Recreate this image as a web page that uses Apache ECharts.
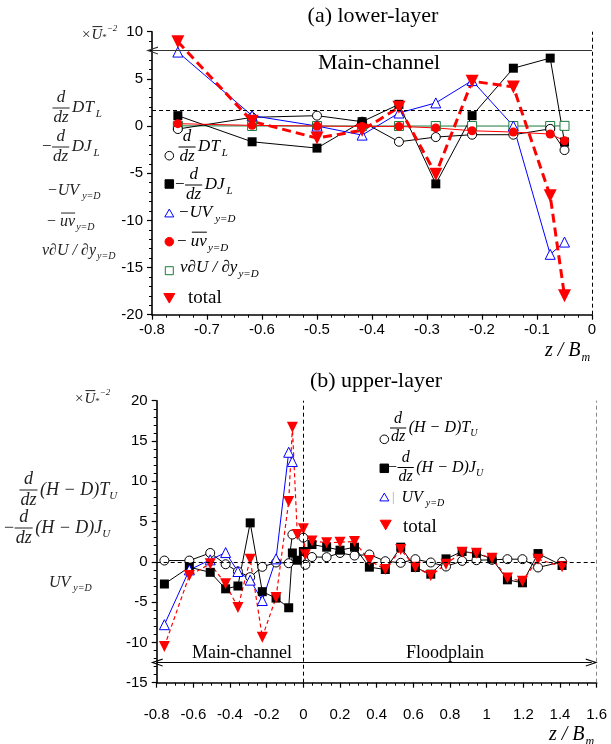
<!DOCTYPE html>
<html><head><meta charset="utf-8">
<script src="https://cdn.jsdelivr.net/npm/echarts@6/dist/echarts.min.js"></script>
<style>html,body{margin:0;padding:0;background:#fff}#c{width:611px;height:744px}</style>
</head><body><div id="c"></div>
<script>
// ---------- (a) lower-layer data ----------
const xLower = [-0.753, -0.618, -0.5, -0.418, -0.351, -0.284, -0.218, -0.143, -0.076, -0.05];
const dTL    = [-0.32, 0.92, 1.1, 0.46, -1.67, -1.17, -0.92, -0.92, -0.3, -2.55];
const dJL    = [1.1, -1.67, -2.34, 0.46, 2.3, -6.13, 1.1, 6.13, 7.2, -1.7];
const negUV  = [7.84, 1.1, 0.0, -0.96, 1.38, 2.45, 4.82, 0.0, -13.6, -12.3];
const negUv  = [0.25, 0.07, 0.0, -0.04, -0.04, -0.2, -0.5, -0.64, -0.85, -1.56];
const visc   = [0.02, 0.01, 0.0, 0.0, 0.0, 0.0, 0.0, 0.0, 0.0, 0.02];
const totLow = [8.94, 0.5, -1.28, -0.46, 1.99, -5.1, 4.75, 4.15, -7.4, -18.0];
const xTicksLower = [-0.8, -0.7, -0.6, -0.5, -0.4, -0.3, -0.2, -0.1, 0];
const yTicksLower = [-20, -15, -10, -5, 0, 5, 10];
const lowerDashY = 1.63, lowerArrowY = 8.0;

// ---------- (b) upper-layer data ----------
const xTU = [-0.758,-0.622,-0.508,-0.424,-0.357,-0.29,-0.224,-0.149,-0.08,-0.06,0.0,0.011,0.047,0.127,0.2,0.279,0.36,0.447,0.531,0.611,0.695,0.778,0.866,0.944,1.029,1.113,1.195,1.28,1.411];
const vTU = [0.16,0.16,1.1,-0.3,-1.2,-1.9,-0.62,-0.08,-0.17,3.39,3.0,-0.37,0.6,0.58,1.1,0.78,0.91,0.08,-0.12,0.33,-0.08,-0.58,0.12,0.2,0.25,0.33,0.33,-0.7,0.0];
const xJU = [-0.758,-0.622,-0.508,-0.424,-0.357,-0.29,-0.224,-0.149,-0.08,-0.06,-0.033,0.0,0.047,0.127,0.2,0.279,0.36,0.447,0.531,0.611,0.695,0.778,0.866,0.944,1.029,1.113,1.195,1.28,1.411];
const vJU = [-2.75,-0.66,-1.3,-3.35,-3.0,4.84,-3.7,-4.5,-5.7,1.1,0.2,1.28,2.15,1.82,1.45,1.82,-0.66,-0.95,1.82,-0.7,-1.53,0.37,1.28,1.07,0.37,-2.23,-2.6,1.03,-0.45];
const xUV = [-0.758,-0.622,-0.508,-0.424,-0.357,-0.29,-0.224,-0.149,-0.08,-0.06];
const vUV = [-7.8,-1.0,0.25,1.15,-1.2,-2.27,-4.8,0.37,13.6,12.45];
const xTot = [-0.758,-0.622,-0.508,-0.424,-0.357,-0.29,-0.224,-0.149,-0.08,-0.06,-0.033,0.0,0.011,0.047,0.127,0.2,0.279,0.36,0.447,0.531,0.611,0.695,0.778,0.866,0.944,1.029,1.113,1.195,1.28,1.411];
const vTot = [-10.5,-1.7,-0.25,-2.73,-5.67,0.33,-9.35,-4.43,7.48,16.7,3.4,4.1,0.87,2.6,2.36,2.44,2.52,0.16,-0.95,1.53,-0.66,-1.7,-0.29,1.2,1.07,0.45,-2.0,-2.4,0.33,-0.6];
const xTicksUpper = [-0.8,-0.6,-0.4,-0.2,0,0.2,0.4,0.6,0.8,1,1.2,1.4,1.6];
const yTicksUpper = [-15,-10,-5,0,5,10,15,20];
const upperArrowY = -12.5, upperArrowEnd = 1.573;

// ---------- helpers ----------
const SERIF = '"Liberation Serif","Times New Roman",serif';
const SANS = '"Liberation Sans",Arial,sans-serif';
const cv = document.createElement('canvas').getContext('2d');
function fnt(sz, it){ return (it ? 'italic ' : '') + sz + 'px ' + SERIF; }
function tw(s, f){ cv.font = f; return cv.measureText(s).width; }
function T(x, y, s, sz, it, col, al, fam){
  return {type:'text', x:x, y:y, silent:true, z:100,
    style:{text:s, font: fam ? (sz+'px '+fam) : fnt(sz,it), fill:col||'#000', align:al||'left', verticalAlign:'middle'}};
}
function L(x1,y1,x2,y2,col,w){ return {type:'line', silent:true, z:100, shape:{x1:x1,y1:y1,x2:x2,y2:y2}, style:{stroke:col||'#000', lineWidth:w||1}}; }
function M(x, y, sz, parts, col){
  col = col || '#000';
  const out = []; let cx = x;
  parts.forEach(p => {
    if (p.frac){
      const f = fnt(sz, true);
      const w = Math.max(tw(p.frac[0], f), tw(p.frac[1], f)) + 3;
      out.push(T(cx + w/2, y - sz*0.6, p.frac[0], sz, true, col, 'center'));
      out.push(L(cx + 0.5, y, cx + w - 0.5, y, col, 1));
      out.push(T(cx + w/2, y + sz*0.58, p.frac[1], sz, true, col, 'center'));
      cx += w + (p.gap == null ? 2 : p.gap);
    } else {
      const small = p.sub || p.sup;
      const s2 = small ? Math.round(sz*0.62) : sz;
      const it = p.it !== false;
      const dy = p.sub ? sz*0.36 : (p.sup ? -sz*0.42 : 0);
      const dx = p.dx || 0;
      out.push(T(cx + dx, y + dy + (p.dy||0), p.t, s2, it, col));
      const w = tw(p.t, fnt(s2, it));
      if (p.over) out.push(L(cx + dx + 1, y - sz*0.56, cx + dx + w, y - sz*0.56, col, 1));
      cx += w + dx + (p.gap || 0);
    }
  });
  return out;
}
function circ(cx, cy, r, fill, stroke){ return {type:'circle', silent:true, z:100, shape:{cx:cx,cy:cy,r:r}, style:{fill:fill, stroke:stroke, lineWidth:1}}; }
function sq(cx, cy, s, fill, stroke){ return {type:'rect', silent:true, z:100, shape:{x:cx-s/2,y:cy-s/2,width:s,height:s}, style:{fill:fill, stroke:stroke, lineWidth:1}}; }
function tri(cx, cy, s, fill, stroke, down){
  const h = s*0.87, d = down ? -1 : 1;
  return {type:'polygon', silent:true, z:100, shape:{points:[[cx, cy - d*h/2],[cx - s/2, cy + d*h/2],[cx + s/2, cy + d*h/2]]}, style:{fill:fill, stroke:stroke, lineWidth:1}};
}
function pairs(xs, ys){ return xs.map((x, i) => [x, ys[i]]); }
function fmt(v){ const r = Math.round(v*10)/10; return (Math.abs(r) < 1e-9) ? '0' : String(r); }
const ARROW = 'path://M0,12L4,0L8,12L6.9,12L4,3.4L1.1,12Z';

function xAx(grid, ticks, itv, margin){
  return {gridIndex:grid, type:'value', min:ticks[0], max:ticks[ticks.length-1], interval:itv,
    axisLine:{show:true, onZero:false, lineStyle:{color:'#000', width:1.6}},
    axisTick:{show:true, inside:false, length:5, lineStyle:{color:'#000', width:1.2}},
    minorTick:{show:true, splitNumber:4, length:3, lineStyle:{color:'#000', width:1}},
    splitLine:{show:false}, minorSplitLine:{show:false},
    axisLabel:{color:'#000', fontFamily:SANS, fontSize:15, margin:margin, formatter: fmt}};
}
function yAx(grid, ticks, itv){
  return {gridIndex:grid, type:'value', min:ticks[0], max:ticks[ticks.length-1], interval:itv,
    axisLine:{show:true, onZero:false, lineStyle:{color:'#000', width:1.6}},
    axisTick:{show:true, inside:false, length:5, lineStyle:{color:'#000', width:1.2}},
    minorTick:{show:true, splitNumber:5, length:3, lineStyle:{color:'#000', width:1}},
    splitLine:{show:false}, minorSplitLine:{show:false},
    axisLabel:{color:'#000', fontFamily:SANS, fontSize:15, margin:9, formatter: fmt}};
}
const dash = {type:[4,3], color:'#000', width:1};

// ---------- series ----------
const series = [
  {name:'visc', type:'line', xAxisIndex:0, yAxisIndex:0, data:pairs(xLower, visc),
   symbol:'rect', symbolSize:9, itemStyle:{color:'#fff', borderColor:'#1a7a3c', borderWidth:1},
   lineStyle:{color:'#1a7a3c', width:1},
   markLine:{silent:true, symbol:'none', label:{show:false}, animation:false,
     data:[
       {xAxis:0, lineStyle:dash},
       {yAxis:lowerDashY, lineStyle:dash},
       [{coord:[xTicksLower[0], lowerArrowY], symbol:ARROW, symbolSize:[8,12], lineStyle:{type:'solid', color:'#333', width:1}},
        {coord:[0, lowerArrowY], symbol:'none', lineStyle:{type:'solid', color:'#333', width:1}}]
     ]}},
  {name:'dTL', type:'line', xAxisIndex:0, yAxisIndex:0, data:pairs(xLower, dTL),
   symbol:'circle', symbolSize:9, itemStyle:{color:'#fff', borderColor:'#000', borderWidth:1}, lineStyle:{color:'#000', width:1}},
  {name:'dJL', type:'line', xAxisIndex:0, yAxisIndex:0, data:pairs(xLower, dJL),
   symbol:'rect', symbolSize:9, itemStyle:{color:'#000'}, lineStyle:{color:'#000', width:1}},
  {name:'negUV', type:'line', xAxisIndex:0, yAxisIndex:0, data:pairs(xLower, negUV),
   symbol:'triangle', symbolSize:10, itemStyle:{color:'#fff', borderColor:'#0000ff', borderWidth:1}, lineStyle:{color:'#0000ff', width:1}},
  {name:'negUv', type:'line', xAxisIndex:0, yAxisIndex:0, data:pairs(xLower, negUv),
   symbol:'circle', symbolSize:9, itemStyle:{color:'#ff0000'}, lineStyle:{color:'#ff0000', width:1}},
  {name:'total', type:'line', xAxisIndex:0, yAxisIndex:0, data:pairs(xLower, totLow),
   symbol:'triangle', symbolRotate:180, symbolSize:13, itemStyle:{color:'#ff0000'}, lineStyle:{color:'#ff0000', width:3, type:[9,5]}},

  {name:'TU', type:'line', xAxisIndex:1, yAxisIndex:1, data:pairs(xTU, vTU),
   symbol:'circle', symbolSize:9, itemStyle:{color:'#fff', borderColor:'#000', borderWidth:1}, lineStyle:{color:'#000', width:1},
   markLine:{silent:true, symbol:'none', label:{show:false}, animation:false,
     data:[
       {xAxis:0, lineStyle:dash},
       {xAxis:xTicksUpper[xTicksUpper.length-1], lineStyle:{type:[4,3], color:'#888', width:1}},
       {yAxis:0, lineStyle:dash},
       [{coord:[xTicksUpper[0], upperArrowY], symbol:ARROW, symbolSize:[8,12], lineStyle:{type:'solid', color:'#000', width:1}},
        {coord:[upperArrowEnd, upperArrowY], symbol:ARROW, symbolSize:[8,12], lineStyle:{type:'solid', color:'#000', width:1}}]
     ]}},
  {name:'JU', type:'line', xAxisIndex:1, yAxisIndex:1, data:pairs(xJU, vJU),
   symbol:'rect', symbolSize:9, itemStyle:{color:'#000'}, lineStyle:{color:'#000', width:1}},
  {name:'UV', type:'line', xAxisIndex:1, yAxisIndex:1, data:pairs(xUV, vUV),
   symbol:'triangle', symbolSize:10, itemStyle:{color:'#fff', borderColor:'#0000ff', borderWidth:1}, lineStyle:{color:'#0000ff', width:1}},
  {name:'totalU', type:'line', xAxisIndex:1, yAxisIndex:1, data:pairs(xTot, vTot),
   symbol:'triangle', symbolRotate:180, symbolSize:11, itemStyle:{color:'#ff0000'}, lineStyle:{color:'#ff0000', width:1.2, type:[4,3]}}
];

// ---------- annotations ----------
let g = [];
const LC = '#222';
// titles
g.push(T(373, 16, '(a) lower-layer', 22, false, '#000', 'center'));
g.push(T(376, 381, '(b) upper-layer', 22, false, '#000', 'center'));
g.push(T(379, 63, 'Main-channel', 22, false, '#000', 'center'));
g.push(T(242, 653, 'Main-channel', 18, false, '#000', 'center'));
g.push(T(445, 653, 'Floodplain', 18, false, '#000', 'center'));
// unit labels
g = g.concat(M(82, 35, 15, [{t:'×', it:false, gap:1}, {t:'U', over:true}, {t:'*', sub:true, it:false, dy:-3}, {t:'−2', sup:true}], LC));
g = g.concat(M(75, 399, 15, [{t:'×', it:false, gap:1}, {t:'U', over:true}, {t:'*', sub:true, it:false, dy:-3}, {t:'−2', sup:true}], LC));
// left labels (a)
g = g.concat(M(52, 108, 17, [{frac:['d','dz']}, {t:'DT', gap:2}, {t:'L', sub:true}], LC));
g = g.concat(M(42, 147, 17, [{t:'−', it:false}, {frac:['d','dz']}, {t:'DJ', gap:2}, {t:'L', sub:true}], LC));
g = g.concat(M(47, 191, 16, [{t:'−UV', gap:3}, {t:'y=D', sub:true}], LC));
g = g.concat(M(47, 222, 16, [{t:'− ', it:false}, {t:'uv', over:true, gap:1}, {t:'y=D', sub:true}], LC));
g = g.concat(M(42, 251, 16, [{t:'ν∂U / ∂y', gap:1}, {t:'y=D', sub:true}], LC));
// left labels (b)
g = g.concat(M(19, 490, 18, [{frac:['d','dz']}, {t:'(H − D)T', it:true}, {t:'U', sub:true}], LC));
g = g.concat(M(4, 528, 18, [{t:'−', it:false}, {frac:['d','dz']}, {t:'(H − D)J', it:true}, {t:'U', sub:true}], LC));
g = g.concat(M(49, 583, 16, [{t:'UV', gap:3}, {t:'y=D', sub:true}], LC));
// legend (a)
g.push(circ(169.3, 155.7, 4.3, '#fff', '#000'));
g = g.concat(M(178, 147, 17, [{frac:['d','dz']}, {t:'DT', gap:2}, {t:'L', sub:true}], '#000'));
g.push(sq(169.3, 184, 8.5, '#000', '#000'));
g = g.concat(M(175, 185, 17, [{t:'−', it:false}, {frac:['d','dz']}, {t:'DJ', gap:2}, {t:'L', sub:true}], '#000'));
g.push(tri(169.3, 213, 9, '#fff', '#0000ff', false));
g = g.concat(M(178, 213, 17, [{t:'−UV', gap:3}, {t:'y=D', sub:true}], '#000'));
g.push(circ(169.3, 241.7, 4.3, '#ff0000', '#ff0000'));
g = g.concat(M(177, 241.7, 17, [{t:'− ', it:false}, {t:'uv', over:true, gap:1}, {t:'y=D', sub:true}], '#000'));
g.push(sq(169.3, 270.7, 8, '#fff', '#1a7a3c'));
g = g.concat(M(180, 268, 17, [{t:'ν∂U / ∂y', gap:1}, {t:'y=D', sub:true}], '#000'));
g.push(tri(169.3, 298.3, 11, '#ff0000', '#ff0000', true));
g.push(T(188, 298, 'total', 19, false, '#000'));
// legend (b)
g.push(circ(384.3, 439.3, 4.3, '#fff', '#000'));
g = g.concat(M(389.5, 428, 16, [{frac:['d','dz']}, {t:'(H − D)T'}, {t:'U', sub:true}], '#000'));
g.push(sq(384.3, 468.3, 8.5, '#000', '#000'));
g = g.concat(M(388, 467.5, 16, [{t:'−', it:false}, {frac:['d','dz']}, {t:'(H − D)J'}, {t:'U', sub:true}], '#000'));
g.push(tri(384.3, 497, 9, '#fff', '#0000ff', false));
g.push(T(392, 498, '|', 12, false, '#999'));
g = g.concat(M(401.5, 498, 16, [{t:'UV', gap:3}, {t:'y=D', sub:true}], '#000'));
g.push(tri(385.7, 525, 11, '#ff0000', '#ff0000', true));
g.push(T(403, 527, 'total', 19, false, '#000'));
// axis names
g = g.concat(M(545, 351, 20, [{t:'z / B', gap:1}, {t:'m', sub:true}], '#000'));
g = g.concat(M(549, 735, 20, [{t:'z / B', gap:1}, {t:'m', sub:true}], '#000'));

const chart = echarts.init(document.getElementById('c'), null, {renderer:'canvas', width:611, height:744});
chart.setOption({
  animation:false,
  backgroundColor:'#fff',
  grid:[
    {left:152, top:31.7, width:440, height:283},
    {left:156.7, top:400.7, width:440, height:282}
  ],
  xAxis:[xAx(0, xTicksLower, 0.1, 8), xAx(1, xTicksUpper, 0.2, 25)],
  yAxis:[yAx(0, yTicksLower, 5), yAx(1, yTicksUpper, 5)],
  series: series,
  graphic: g
});
</script>
</body></html>
